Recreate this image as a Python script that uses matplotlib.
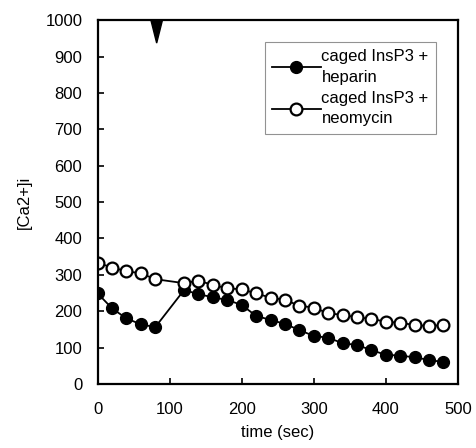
import numpy as np
import matplotlib.pyplot as plt

plt.rcParams['font.family'] = ['Liberation Sans', 'DejaVu Sans']

# time points (sec), no sample at 100
time = [0, 20, 40, 60, 80, 120, 140, 160, 180, 200, 220, 240, 260, 280,
        300, 320, 340, 360, 380, 400, 420, 440, 460, 480]
heparin = [249, 208, 180, 164, 156, 258, 247, 238, 231, 217, 187, 176, 165,
           148, 132, 127, 112, 107, 93, 80, 78, 73, 66, 60]
neomycin = [333, 320, 310, 304, 288, 277, 284, 272, 263, 260, 249, 237, 231,
            215, 210, 194, 190, 183, 179, 171, 168, 162, 159, 162]
stim_time = 82

fig = plt.figure(figsize=(4.76, 4.48), dpi=100)
ax = fig.add_axes([0.205, 0.143, 0.757, 0.812])

ax.plot(time, heparin, '-o', color='black', lw=1.3, ms=8.5,
        mfc='black', mec='black', label='caged InsP3 +\nheparin')
ax.plot(time, neomycin, '-o', color='black', lw=1.3, ms=8.5, mew=1.6,
        mfc='white', mec='black', label='caged InsP3 +\nneomycin')

# stimulus marker hanging from the top spine
ax.fill([stim_time - 8, stim_time + 8, stim_time], [1000, 1000, 937],
        color='black', clip_on=False, zorder=5)

ax.set_xlim(0, 500)
ax.set_ylim(0, 1000)
ax.set_xticks(np.arange(0, 501, 100))
ax.set_yticks(np.arange(0, 1001, 100))
ax.tick_params(direction='in', length=4, width=1.2, labelsize=12)
ax.tick_params(axis='x', pad=13)
ax.tick_params(axis='y', pad=11)
for s in ax.spines.values():
    s.set_linewidth(1.6)

ax.set_xlabel('time (sec)', fontsize=12, labelpad=6)
ax.set_ylabel('[Ca2+]i', fontsize=12, labelpad=10)

leg = ax.legend(loc='upper left', bbox_to_anchor=(0.464, 0.94), fontsize=12,
                frameon=True, fancybox=False, handlelength=2.9,
                handletextpad=0.05, borderpad=0.45, labelspacing=0.35,
                borderaxespad=0)
for t in leg.get_texts():
    t.set_linespacing(1.45)
leg.get_frame().set_edgecolor('#777777')
leg.get_frame().set_linewidth(0.8)

plt.savefig('out.png')
plt.close()
